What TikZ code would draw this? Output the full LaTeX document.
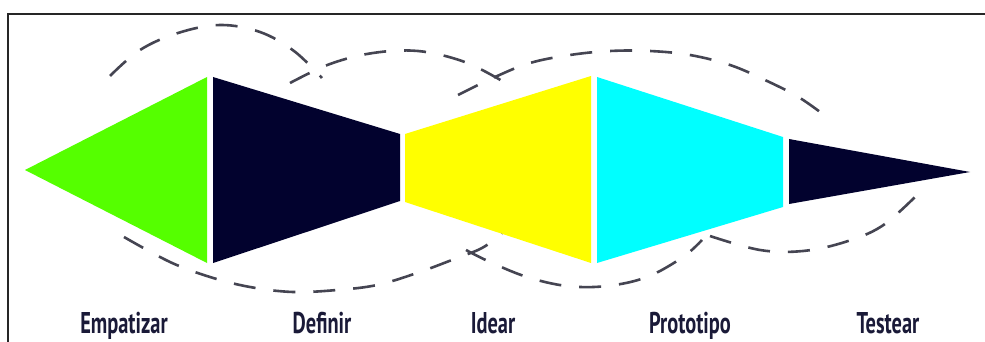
\documentclass[tikz,border=0pt]{standalone}
\usepackage{fontspec}
\setmainfont{PT Sans}
\definecolor{cgreen}{HTML}{55FF00}
\definecolor{cnavy}{HTML}{02022E}
\definecolor{cyellow}{HTML}{FFFF00}
\definecolor{ccyan}{HTML}{00FFFF}
\definecolor{cdash}{HTML}{454552}
\definecolor{ctext}{HTML}{1A1A38}
\begin{document}
\begin{tikzpicture}[x=0.5pt,y=-0.5pt,
  dashcurve/.style={draw=cdash,line width=1.3pt,dash pattern=on 11pt off 9pt,line cap=butt},
  label/.style={anchor=base,text=ctext,font=\bfseries\fontsize{15}{17}\selectfont}]
\useasboundingbox (0,0) rectangle (985,342);
\fill[white] (0,0) rectangle (985,342);
% frame
\draw[line width=1pt,black!85] (8,342) -- (8,14) -- (985,14);
% stages
\fill[cgreen] (25,170) -- (207,77) -- (207,263) -- cycle;
\fill[cnavy] (213,77) -- (400,134) -- (400,201) -- (213,263) -- cycle;
\fill[cyellow] (405,134) -- (591,76) -- (591,263) -- (405,202) -- cycle;
\fill[ccyan] (597,77) -- (783,137) -- (783,207) -- (597,263) -- cycle;
\fill[cnavy] (789,139) -- (970,172) -- (789,204) -- cycle;
% dashed curves, top
\draw[dashcurve] plot[smooth,tension=0.6] coordinates {(110,76) (140,50) (178,33) (220,25) (260,32) (294,51) (322,78)};
\draw[dashcurve] plot[smooth,tension=0.6] coordinates {(290,83) (330,64) (373,53) (418,51) (462,61) (497,78) (506,85)};
\draw[dashcurve] plot[smooth,tension=0.6] coordinates {(458,95) (495,77) (530,63) (570,55) (610,51) (650,51) (690,55) (730,65) (765,80) (800,98) (832,121)};
% dashed curves, bottom
\draw[dashcurve] plot[smooth,tension=0.6] coordinates {(124,237) (170,262) (210,277) (250,287) (293,292) (337,290) (377,285) (417,273) (457,258) (482,248) (502,234)};
\draw[dashcurve] plot[smooth,tension=0.6] coordinates {(466,250) (490,262) (527,277) (567,286) (607,286) (647,277) (683,257) (702,240)};
\draw[dashcurve] plot[smooth,tension=0.6] coordinates {(710,236) (760,250) (803,251) (845,242) (882,226) (917,195)};
% labels
\node[label] (l1) at (124,333) {\scalebox{0.68}[1]{Empatizar}};
\node[label] (l2) at (322,333) {\scalebox{0.68}[1]{Definir}};
\node[label] (l3) at (493,333) {\scalebox{0.68}[1]{Idear}};
\node[label] (l4) at (690,333) {\scalebox{0.68}[1]{Prototipo}};
\node[label] (l5) at (888,333) {\scalebox{0.68}[1]{Testear}};
\end{tikzpicture}
\end{document}
